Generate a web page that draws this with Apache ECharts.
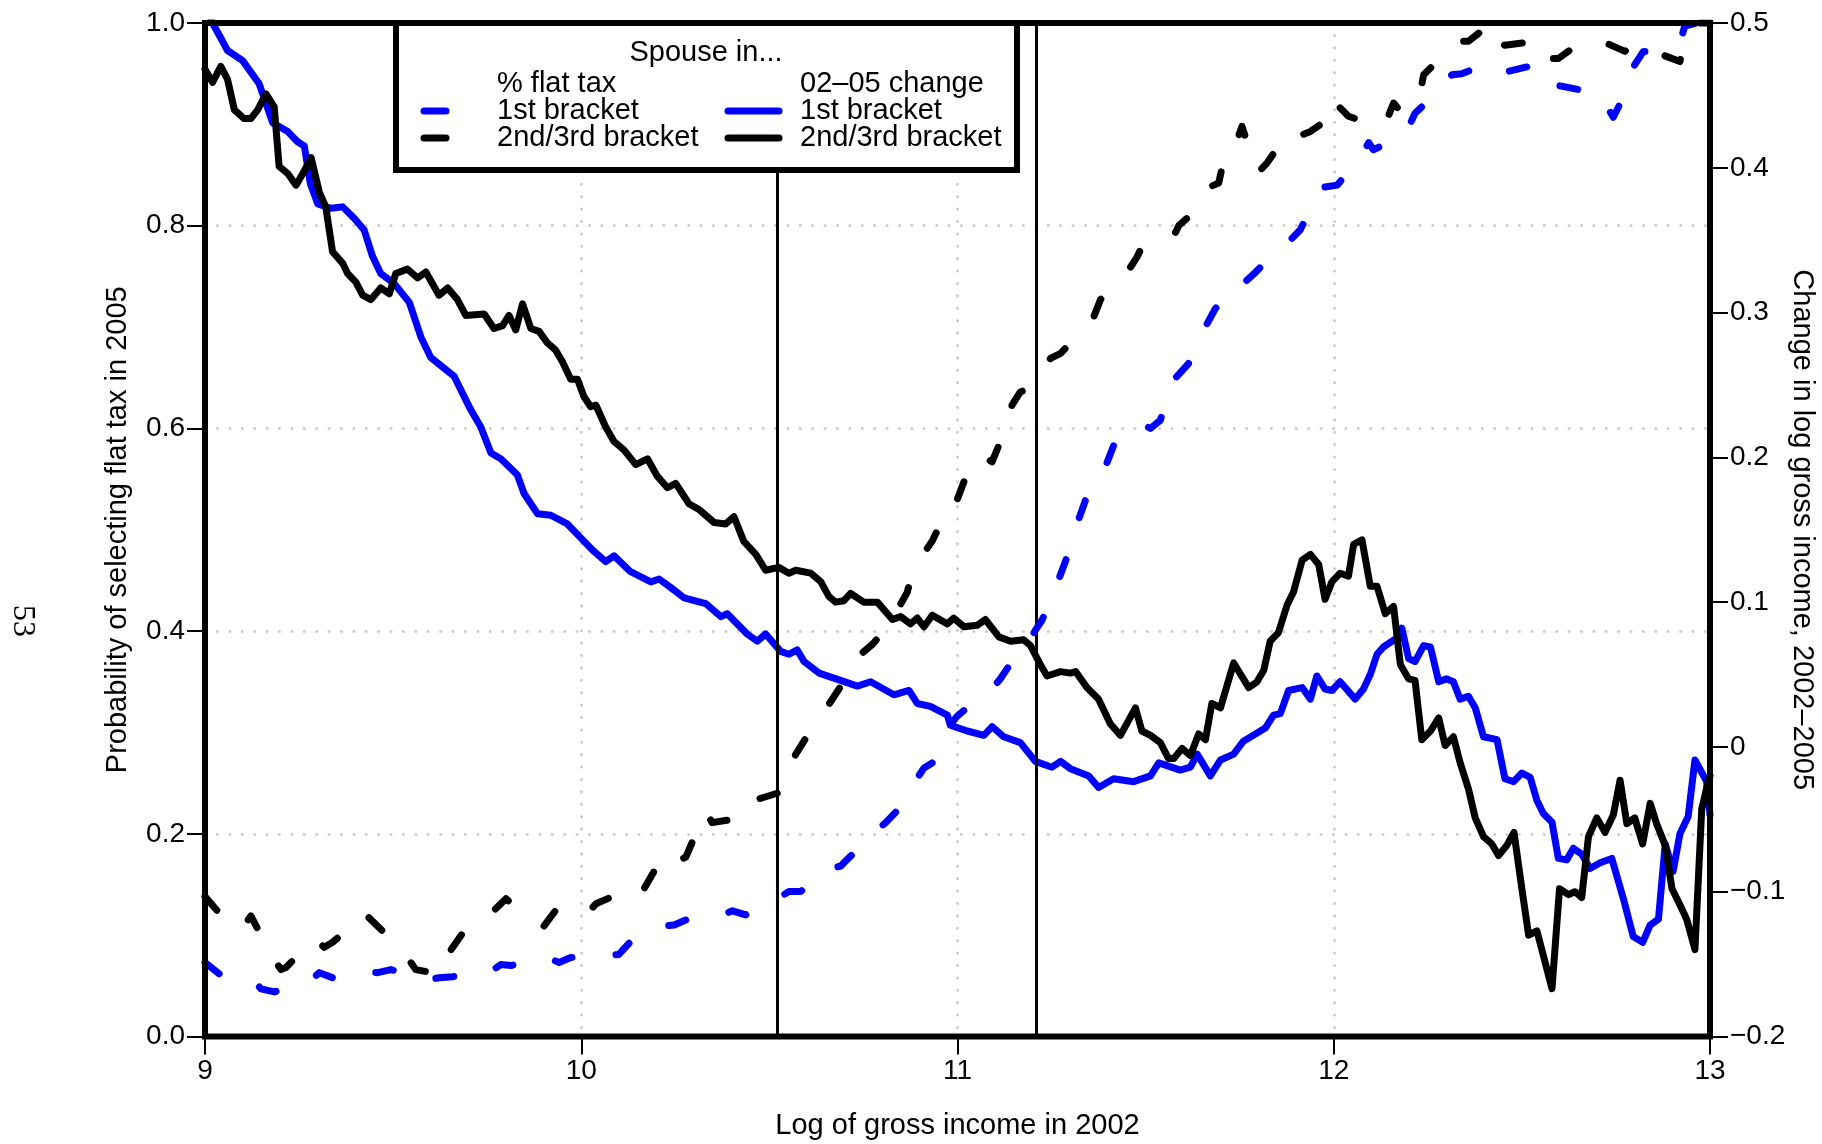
<!DOCTYPE html>
<html><head><meta charset="utf-8">
<script src="https://cdn.jsdelivr.net/npm/echarts@6/dist/echarts.min.js"></script>
<style>html,body{margin:0;padding:0;background:#fff}#c{width:1822px;height:1144px}</style>
</head><body><div id="c"></div>
<script>
// ---- data (x = log of gross income in 2002) ----
const xTicks = [9, 10, 11, 12, 13];
const bracketThresholds = [10.521, 11.214];

// % flat tax (left axis), spouse in 1st bracket
const flat1st = [[9.000,0.073],[9.051,0.058],[9.135,0.053],[9.149,0.047],[9.184,0.044],[9.277,0.054],[9.304,0.063],[9.339,0.058],[9.428,0.064],[9.459,0.063],[9.494,0.066],[9.592,0.056],[9.622,0.058],[9.658,0.059],[9.755,0.063],[9.786,0.071],[9.813,0.070],[9.910,0.078],[9.941,0.073],[9.972,0.078],[10.074,0.080],[10.100,0.081],[10.127,0.092],[10.216,0.109],[10.247,0.110],[10.278,0.115],[10.375,0.120],[10.402,0.124],[10.437,0.120],[10.521,0.136],[10.552,0.143],[10.583,0.143],[10.663,0.166],[10.689,0.168],[10.716,0.178],[10.787,0.204],[10.809,0.211],[10.835,0.221],[10.893,0.255],[10.911,0.265],[10.933,0.270],[10.977,0.306],[10.999,0.316],[11.021,0.323],[11.092,0.343],[11.114,0.353],[11.132,0.363],[11.189,0.389],[11.207,0.401],[11.225,0.411],[11.265,0.447],[11.287,0.469],[11.318,0.506],[11.340,0.529],[11.393,0.562],[11.415,0.583],[11.486,0.605],[11.513,0.600],[11.539,0.608],[11.570,0.646],[11.614,0.664],[11.654,0.697],[11.685,0.718],[11.743,0.744],[11.760,0.743],[11.792,0.754],[11.858,0.779],[11.885,0.786],[11.911,0.796],[11.955,0.829],[11.973,0.838],[12.009,0.840],[12.070,0.867],[12.093,0.882],[12.105,0.875],[12.189,0.889],[12.216,0.911],[12.291,0.937],[12.314,0.949],[12.340,0.950],[12.411,0.960],[12.429,0.955],[12.460,0.952],[12.540,0.959],[12.557,0.952],[12.575,0.940],[12.655,0.934],[12.681,0.929],[12.708,0.929],[12.743,0.907],[12.770,0.927],[12.800,0.959],[12.823,0.972],[12.849,0.972],[12.925,0.987],[12.933,0.997],[12.964,1.000],[13.000,1.000]];

// % flat tax (left axis), spouse in 2nd/3rd bracket
const flat23 = [[9.000,0.138],[9.042,0.120],[9.096,0.105],[9.122,0.119],[9.175,0.081],[9.202,0.066],[9.215,0.068],[9.290,0.097],[9.317,0.088],[9.339,0.093],[9.410,0.115],[9.423,0.122],[9.450,0.112],[9.525,0.085],[9.560,0.066],[9.631,0.061],[9.653,0.085],[9.698,0.109],[9.742,0.115],[9.800,0.136],[9.835,0.124],[9.901,0.109],[9.937,0.127],[9.994,0.127],[10.018,0.122],[10.039,0.131],[10.114,0.143],[10.149,0.137],[10.167,0.146],[10.220,0.180],[10.251,0.172],[10.278,0.177],[10.317,0.211],[10.331,0.222],[10.348,0.211],[10.432,0.216],[10.450,0.219],[10.468,0.234],[10.530,0.241],[10.548,0.265],[10.601,0.297],[10.641,0.318],[10.694,0.348],[10.720,0.370],[10.774,0.387],[10.818,0.406],[10.866,0.438],[10.884,0.462],[10.933,0.489],[10.951,0.503],[10.973,0.504],[11.035,0.565],[11.060,0.574],[11.092,0.567],[11.114,0.587],[11.145,0.623],[11.167,0.636],[11.189,0.639],[11.247,0.669],[11.274,0.674],[11.300,0.684],[11.362,0.710],[11.380,0.727],[11.393,0.733],[11.451,0.754],[11.477,0.769],[11.486,0.776],[11.548,0.779],[11.575,0.790],[11.588,0.800],[11.654,0.822],[11.668,0.838],[11.694,0.842],[11.716,0.878],[11.743,0.884],[11.756,0.898],[11.787,0.863],[11.800,0.853],[11.823,0.862],[11.880,0.893],[11.911,0.889],[11.938,0.893],[11.969,0.901],[11.991,0.926],[12.039,0.908],[12.062,0.905],[12.088,0.895],[12.146,0.909],[12.159,0.921],[12.177,0.913],[12.226,0.924],[12.239,0.949],[12.305,0.973],[12.327,0.982],[12.358,0.982],[12.420,1.000],[12.433,0.982],[12.455,0.978],[12.557,0.983],[12.575,0.965],[12.597,0.965],[12.664,0.983],[12.690,0.982],[12.725,0.980],[12.774,0.972],[12.787,0.978],[12.827,0.975],[12.920,0.962],[12.933,0.985],[12.970,1.000],[13.000,1.000]];

// 02-05 change in log gross income (right axis), spouse in 1st bracket
const change1st = [[9.000,0.515],[9.020,0.500],[9.060,0.481],[9.100,0.474],[9.144,0.458],[9.180,0.431],[9.220,0.425],[9.246,0.418],[9.264,0.415],[9.280,0.389],[9.300,0.375],[9.335,0.372],[9.366,0.373],[9.397,0.365],[9.423,0.357],[9.445,0.339],[9.467,0.327],[9.503,0.320],[9.543,0.307],[9.574,0.283],[9.600,0.269],[9.662,0.256],[9.706,0.233],[9.733,0.221],[9.760,0.203],[9.786,0.199],[9.830,0.188],[9.848,0.175],[9.884,0.161],[9.919,0.160],[9.963,0.154],[10.000,0.144],[10.034,0.135],[10.065,0.128],[10.087,0.132],[10.131,0.121],[10.185,0.114],[10.207,0.116],[10.238,0.110],[10.273,0.103],[10.331,0.099],[10.371,0.090],[10.388,0.092],[10.441,0.078],[10.468,0.073],[10.490,0.078],[10.530,0.066],[10.552,0.064],[10.574,0.067],[10.592,0.059],[10.632,0.051],[10.689,0.046],[10.734,0.042],[10.769,0.045],[10.831,0.036],[10.871,0.039],[10.893,0.030],[10.928,0.028],[10.973,0.022],[10.981,0.015],[11.026,0.011],[11.070,0.008],[11.092,0.014],[11.123,0.007],[11.167,0.003],[11.207,-0.010],[11.251,-0.014],[11.274,-0.010],[11.300,-0.015],[11.349,-0.020],[11.375,-0.028],[11.415,-0.022],[11.468,-0.024],[11.513,-0.020],[11.535,-0.011],[11.592,-0.016],[11.619,-0.014],[11.637,-0.005],[11.672,-0.020],[11.699,-0.009],[11.734,-0.005],[11.760,0.004],[11.805,0.011],[11.818,0.013],[11.840,0.022],[11.858,0.023],[11.880,0.039],[11.916,0.041],[11.938,0.033],[11.955,0.049],[11.977,0.040],[11.995,0.039],[12.017,0.045],[12.057,0.033],[12.079,0.040],[12.097,0.050],[12.115,0.064],[12.132,0.069],[12.172,0.076],[12.181,0.082],[12.199,0.061],[12.216,0.059],[12.239,0.070],[12.257,0.069],[12.279,0.045],[12.300,0.047],[12.318,0.045],[12.336,0.033],[12.358,0.035],[12.376,0.027],[12.398,0.007],[12.434,0.005],[12.455,-0.022],[12.478,-0.024],[12.500,-0.018],[12.522,-0.021],[12.540,-0.037],[12.557,-0.046],[12.580,-0.052],[12.597,-0.077],[12.619,-0.078],[12.637,-0.070],[12.659,-0.074],[12.681,-0.084],[12.708,-0.080],[12.739,-0.077],[12.770,-0.105],[12.796,-0.131],[12.821,-0.135],[12.841,-0.123],[12.863,-0.119],[12.881,-0.067],[12.902,-0.086],[12.920,-0.060],[12.942,-0.048],[12.960,-0.009],[12.991,-0.024],[13.000,-0.047]];

// 02-05 change in log gross income (right axis), spouse in 2nd/3rd bracket
const change23 = [[9.000,0.468],[9.020,0.459],[9.042,0.470],[9.060,0.461],[9.078,0.440],[9.104,0.434],[9.122,0.434],[9.140,0.440],[9.162,0.451],[9.184,0.442],[9.197,0.401],[9.220,0.396],[9.242,0.388],[9.260,0.396],[9.282,0.407],[9.304,0.383],[9.321,0.373],[9.339,0.342],[9.366,0.334],[9.379,0.327],[9.401,0.321],[9.419,0.312],[9.441,0.309],[9.467,0.317],[9.490,0.313],[9.507,0.327],[9.538,0.330],[9.565,0.324],[9.587,0.328],[9.622,0.312],[9.645,0.317],[9.671,0.309],[9.693,0.298],[9.742,0.299],[9.768,0.289],[9.791,0.291],[9.808,0.298],[9.826,0.288],[9.844,0.306],[9.866,0.289],[9.888,0.287],[9.910,0.279],[9.932,0.274],[9.950,0.266],[9.972,0.254],[9.990,0.254],[10.007,0.242],[10.025,0.235],[10.039,0.236],[10.065,0.221],[10.087,0.211],[10.114,0.205],[10.145,0.195],[10.176,0.199],[10.202,0.187],[10.229,0.179],[10.251,0.182],[10.286,0.168],[10.313,0.164],[10.353,0.155],[10.384,0.154],[10.406,0.159],[10.432,0.142],[10.464,0.133],[10.490,0.122],[10.525,0.124],[10.552,0.120],[10.570,0.122],[10.610,0.120],[10.637,0.114],[10.658,0.104],[10.676,0.100],[10.698,0.101],[10.716,0.106],[10.751,0.100],[10.787,0.100],[10.827,0.088],[10.849,0.090],[10.875,0.085],[10.893,0.089],[10.911,0.083],[10.933,0.091],[10.973,0.085],[10.990,0.089],[11.017,0.083],[11.052,0.084],[11.074,0.088],[11.110,0.076],[11.141,0.073],[11.176,0.074],[11.194,0.070],[11.220,0.057],[11.238,0.049],[11.274,0.052],[11.300,0.051],[11.314,0.052],[11.344,0.041],[11.375,0.033],[11.406,0.016],[11.433,0.008],[11.473,0.027],[11.490,0.011],[11.513,0.008],[11.539,0.003],[11.561,-0.008],[11.575,-0.008],[11.597,-0.001],[11.619,-0.006],[11.641,0.009],[11.659,0.005],[11.676,0.030],[11.699,0.027],[11.734,0.058],[11.774,0.041],[11.796,0.045],[11.814,0.053],[11.831,0.073],[11.853,0.079],[11.876,0.098],[11.893,0.107],[11.916,0.129],[11.938,0.133],[11.960,0.126],[11.977,0.102],[11.995,0.114],[12.017,0.120],[12.039,0.118],[12.053,0.140],[12.075,0.143],[12.097,0.111],[12.115,0.111],[12.137,0.092],[12.159,0.097],[12.177,0.057],[12.199,0.047],[12.216,0.046],[12.234,0.005],[12.257,0.011],[12.279,0.020],[12.296,0.001],[12.318,0.007],[12.336,-0.011],[12.358,-0.029],[12.376,-0.049],[12.398,-0.062],[12.420,-0.067],[12.438,-0.075],[12.460,-0.068],[12.479,-0.059],[12.500,-0.098],[12.518,-0.130],[12.540,-0.127],[12.557,-0.144],[12.580,-0.167],[12.600,-0.098],[12.624,-0.102],[12.641,-0.100],[12.659,-0.104],[12.677,-0.062],[12.699,-0.049],[12.721,-0.059],[12.743,-0.047],[12.761,-0.023],[12.779,-0.053],[12.800,-0.049],[12.821,-0.067],[12.841,-0.039],[12.858,-0.053],[12.881,-0.068],[12.899,-0.098],[12.920,-0.109],[12.938,-0.119],[12.960,-0.140],[12.978,-0.043],[12.995,-0.024],[13.000,-0.020]];

const legendTitle = 'Spouse in...';
const legendLeftHead = '% flat tax';
const legendRightHead = '02\u201305 change';
const legendRows = ['1st bracket', '2nd/3rd bracket'];

// ---- chart ----
const FONT = '"Liberation Sans", Arial, Helvetica, sans-serif';
const G = {left: 205, top: 23, right: 1710, bottom: 1036.5};
const chart = echarts.init(document.getElementById('c'), null, {renderer: 'canvas'});
const minus = s => s.replace('-', '\u2212');
const dotted = {color: '#cccccc', width: 3, type: [0.1, 12.3], cap: 'round'};
const tickStyle = {show: true, length: 18, lineStyle: {color: '#000', width: 2}};
const lblStyle = {fontSize: 28, color: '#000', fontFamily: FONT};
const nameStyle = {fontSize: 29, color: '#000', fontFamily: FONT};
const LW = 7;
const dashStyle = c => ({color: c, width: LW, type: [18, 44], cap: 'round', join: 'round'});
const solidStyle = c => ({color: c, width: LW, type: 'solid', cap: 'round', join: 'round'});

const lx1 = 497, lx2 = 800, ry = [111, 138];
const legendEls = [
  {type: 'rect', z: 101, shape: {x: 396, y: G.top, width: 621, height: 147},
   style: {fill: '#fff', stroke: '#000', lineWidth: 6}},
  {type: 'text', z: 102, x: 706, y: 53, style: {text: legendTitle, font: '29px ' + FONT, fill: '#000', align: 'center', verticalAlign: 'middle', textAlign: 'center', textVerticalAlign: 'middle'}},
  {type: 'text', z: 102, x: lx1, y: 84, style: {text: legendLeftHead, font: '29px ' + FONT, fill: '#000', align: 'left', verticalAlign: 'middle', textAlign: 'left', textVerticalAlign: 'middle'}},
  {type: 'text', z: 102, x: lx2, y: 84, style: {text: legendRightHead, font: '29px ' + FONT, fill: '#000', align: 'left', verticalAlign: 'middle', textAlign: 'left', textVerticalAlign: 'middle'}}
];
const symColors = ['#0000ff', '#000000'];
legendRows.forEach((t, i) => {
  legendEls.push({type: 'text', z: 102, x: lx1, y: ry[i], style: {text: t, font: '29px ' + FONT, fill: '#000', align: 'left', verticalAlign: 'middle', textAlign: 'left', textVerticalAlign: 'middle'}});
  legendEls.push({type: 'text', z: 102, x: lx2, y: ry[i], style: {text: t, font: '29px ' + FONT, fill: '#000', align: 'left', verticalAlign: 'middle', textAlign: 'left', textVerticalAlign: 'middle'}});
  legendEls.push({type: 'line', z: 102, shape: {x1: 424, y1: ry[i], x2: 446, y2: ry[i]}, style: {stroke: symColors[i], lineWidth: LW, lineCap: 'round'}});
  legendEls.push({type: 'line', z: 102, shape: {x1: 728, y1: ry[i], x2: 779, y2: ry[i]}, style: {stroke: symColors[i], lineWidth: LW, lineCap: 'round'}});
});

const option = {
  backgroundColor: '#fff',
  animation: false,
  grid: {left: G.left, top: G.top, right: 1822 - G.right, bottom: 1144 - G.bottom, containLabel: false, outerBoundsMode: 'none'},
  xAxis: {
    type: 'value', min: xTicks[0], max: xTicks[xTicks.length - 1], interval: 1,
    axisLine: {show: false}, axisTick: tickStyle,
    axisLabel: Object.assign({margin: 21}, lblStyle),
    splitLine: {show: true, lineStyle: dotted},
    name: 'Log of gross income in 2002', nameLocation: 'middle', nameGap: 75, nameMoveOverlap: false, nameTextStyle: nameStyle
  },
  yAxis: [
    {type: 'value', min: 0, max: 1, interval: 0.2, position: 'left',
     axisLine: {show: false}, axisTick: tickStyle,
     axisLabel: Object.assign({margin: 20, formatter: v => v.toFixed(1)}, lblStyle),
     splitLine: {show: true, lineStyle: dotted},
     name: 'Probability of selecting flat tax in 2005', nameLocation: 'middle', nameGap: 73, nameMoveOverlap: false, nameTextStyle: nameStyle},
    {type: 'value', min: -0.2, max: 0.5, interval: 0.1, position: 'right',
     axisLine: {show: false}, axisTick: tickStyle,
     axisLabel: Object.assign({margin: 20, formatter: v => Math.abs(v) < 1e-9 ? '0' : minus(v.toFixed(1))}, lblStyle),
     splitLine: {show: false},
     name: 'Change in log gross income, 2002\u20132005', nameLocation: 'middle', nameGap: 77, nameRotate: -90, nameMoveOverlap: false, nameTextStyle: nameStyle}
  ],
  series: [
    {type: 'line', name: 'thresholds', data: [], xAxisIndex: 0, yAxisIndex: 0, silent: true, z: 1,
     markLine: {silent: true, symbol: 'none', label: {show: false},
       lineStyle: {color: '#000', width: 3, type: 'solid'},
       data: bracketThresholds.map(v => ({xAxis: v}))}},
    {type: 'line', name: 'change 1st', yAxisIndex: 1, data: change1st, showSymbol: false, symbol: 'none', z: 3, lineStyle: solidStyle('#0000ff')},
    {type: 'line', name: 'change 2nd/3rd', yAxisIndex: 1, data: change23, showSymbol: false, symbol: 'none', z: 4, lineStyle: solidStyle('#000000')},
    {type: 'line', name: 'flat 1st', yAxisIndex: 0, data: flat1st, showSymbol: false, symbol: 'none', z: 5, lineStyle: dashStyle('#0000ff')},
    {type: 'line', name: 'flat 2nd/3rd', yAxisIndex: 0, data: flat23, showSymbol: false, symbol: 'none', z: 6, lineStyle: dashStyle('#000000')}
  ],
  graphic: [
    {type: 'rect', z: 100, silent: true, shape: {x: G.left, y: G.top, width: G.right - G.left, height: G.bottom - G.top},
     style: {fill: 'none', stroke: '#000', lineWidth: 6}},
    {type: 'text', z: 100, x: 22.5, y: 621, rotation: -Math.PI / 2,
     style: {text: '53', font: '32px "Liberation Serif", "DejaVu Serif", serif', fill: '#000', align: 'center', verticalAlign: 'middle', textAlign: 'center', textVerticalAlign: 'middle'}}
  ].concat(legendEls)
};
chart.setOption(option);
</script>
</body></html>
